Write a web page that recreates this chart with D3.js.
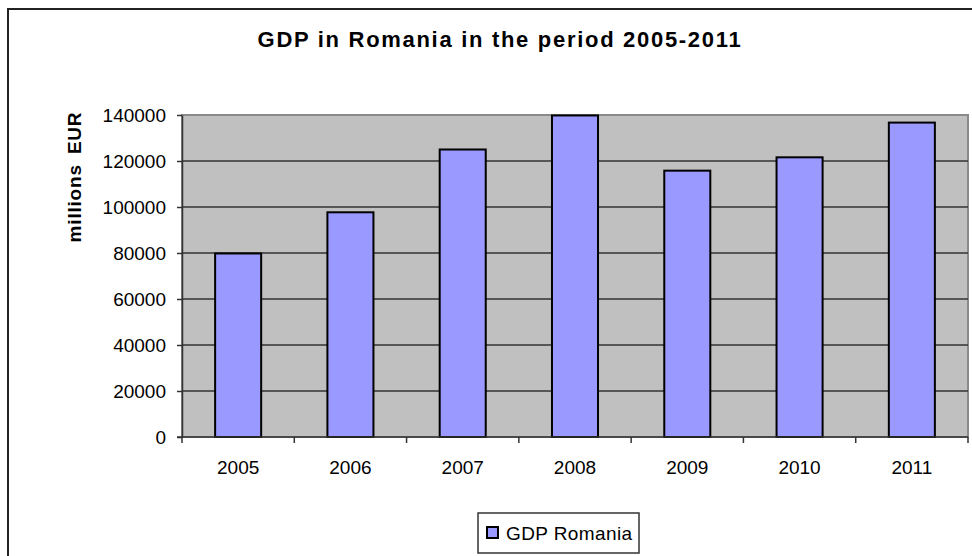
<!DOCTYPE html>
<html>
<head>
<meta charset="utf-8">
<script src="https://cdn.jsdelivr.net/npm/d3@7"></script>
<style>
  body { margin: 0; background: #fff; }
  text { font-family: "Liberation Sans", Arial, sans-serif; fill: #000; }
</style>
</head>
<body>
<div id="chart"></div>
<script>
let years = ['2005', '2006', '2007', '2008', '2009', '2010', '2011'];
let gdp = [79800, 97700, 125000, 139800, 115800, 121600, 136700];
let yTicks = [0, 20000, 40000, 60000, 80000, 100000, 120000, 140000];
let seriesName = 'GDP Romania';

let W = 972, H = 556;
let margin = { top: 115, right: 4, bottom: 119, left: 182 };
let width = W - margin.left - margin.right;
let height = H - margin.top - margin.bottom;

let svg = d3.select('#chart')
    .append('svg')
        .attr('width', W)
        .attr('height', H);

// outer chart border (runs off the right/bottom edge)
svg.append('rect')
    .attr('x', 8)
    .attr('y', 9)
    .attr('width', W + 20)
    .attr('height', H + 20)
    .attr('fill', 'none')
    .attr('stroke', '#222')
    .attr('stroke-width', 2);

// title
svg.append('text')
    .attr('x', 500)
    .attr('y', 47)
    .attr('text-anchor', 'middle')
    .attr('font-size', '22px')
    .attr('font-weight', 'bold')
    .attr('letter-spacing', '1.7px')
    .text('GDP in Romania in the period 2005-2011');

let g = svg.append('g')
    .attr('transform', 'translate(' + margin.left + ',' + margin.top + ')');

let x = d3.scaleBand()
    .domain(years)
    .range([0, width])
    .paddingInner(0.59)
    .paddingOuter(0.295);

let y = d3.scaleLinear()
    .domain([0, 140000])
    .range([height, 0]);

// plot area
g.append('rect')
    .attr('width', width)
    .attr('height', height)
    .attr('fill', '#c0c0c0')
    .attr('stroke', '#8a8a8a')
    .attr('stroke-width', 2);

// gridlines
g.selectAll('.grid')
    .data(yTicks.slice(1, -1))
    .enter()
    .append('line')
        .attr('x1', 0)
        .attr('x2', width)
        .attr('y1', d => y(d))
        .attr('y2', d => y(d))
        .attr('stroke', '#333')
        .attr('stroke-width', 1.5);

// bars
g.selectAll('.bar')
    .data(years)
    .enter()
    .append('rect')
        .attr('x', d => x(d))
        .attr('width', x.bandwidth())
        .attr('y', (d, i) => y(gdp[i]))
        .attr('height', (d, i) => height - y(gdp[i]))
        .attr('fill', '#9999ff')
        .attr('stroke', '#000')
        .attr('stroke-width', 2);

// y axis
let yAxis = g.append('g')
    .call(d3.axisLeft(y).tickValues(yTicks).tickSize(5).tickSizeOuter(0).tickPadding(11).tickFormat(d3.format('d')));
yAxis.select('.domain').attr('stroke', '#333').attr('stroke-width', 1.5);
yAxis.selectAll('.tick line').attr('stroke', '#333').attr('stroke-width', 1.5);
yAxis.selectAll('.tick text')
    .attr('font-size', '19px')
    .attr('font-family', '"Liberation Sans", Arial, sans-serif')
    .attr('fill', '#000');

// x axis: ticks on category boundaries
let xAxisG = g.append('g').attr('transform', 'translate(0,' + height + ')');
xAxisG.append('line')
    .attr('x1', -5).attr('x2', width)
    .attr('stroke', '#333').attr('stroke-width', 1.5);
xAxisG.selectAll('.xtick')
    .data(d3.range(years.length + 1))
    .enter()
    .append('line')
        .attr('x1', i => i * x.step())
        .attr('x2', i => i * x.step())
        .attr('y1', 0)
        .attr('y2', 6)
        .attr('stroke', '#333')
        .attr('stroke-width', 1.5);
xAxisG.selectAll('.xlabel')
    .data(years)
    .enter()
    .append('text')
        .attr('x', d => x(d) + x.bandwidth() / 2)
        .attr('y', 37)
        .attr('text-anchor', 'middle')
        .attr('font-size', '19px')
        .text(d => d);

// y label
svg.append('text')
    .attr('transform', 'translate(81,177) rotate(-90)')
    .attr('text-anchor', 'middle')
    .attr('font-size', '19px')
    .attr('font-weight', 'bold')
    .attr('letter-spacing', '0.8px')
    .attr('word-spacing', '4px')
    .text('millions EUR');

// legend
let legend = svg.append('g').attr('transform', 'translate(478,513)');
legend.append('rect')
    .attr('width', 161)
    .attr('height', 40)
    .attr('fill', '#fff')
    .attr('stroke', '#333')
    .attr('stroke-width', 1.5);
legend.append('rect')
    .attr('x', 9)
    .attr('y', 14)
    .attr('width', 11)
    .attr('height', 11)
    .attr('fill', '#9999ff')
    .attr('stroke', '#000')
    .attr('stroke-width', 2);
legend.append('text')
    .attr('x', 28)
    .attr('y', 27)
    .attr('font-size', '19px')
    .attr('letter-spacing', '0.4px')
    .text(seriesName);
</script>
</body>
</html>
